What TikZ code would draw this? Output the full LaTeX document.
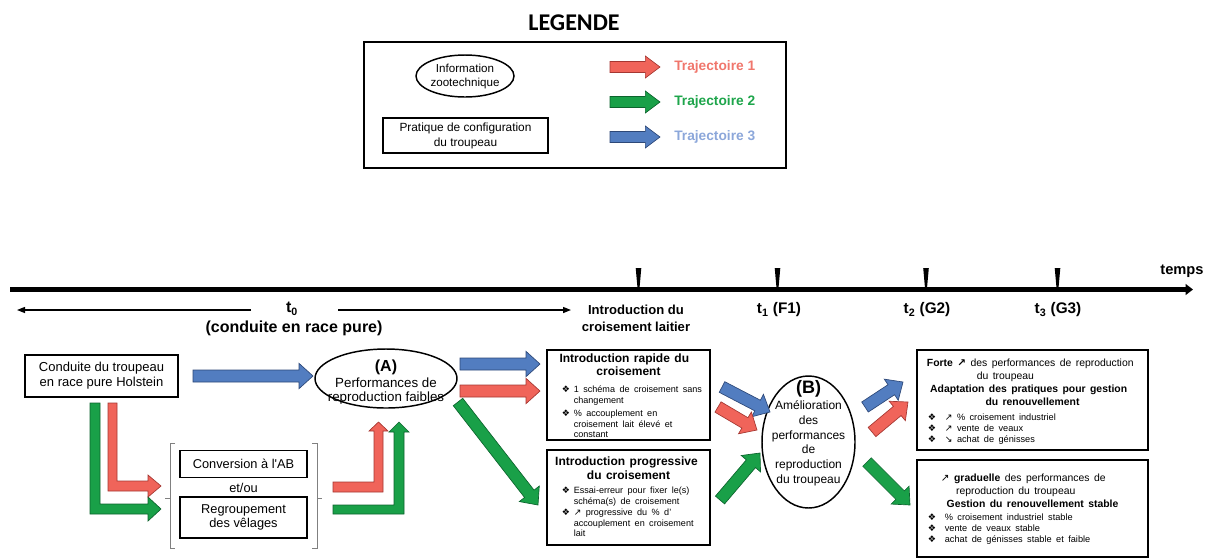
\documentclass[tikz,border=0pt]{standalone}
\usepackage{fontspec}
\setmainfont{Liberation Sans}
\newfontfamily\legendefont{Carlito}
\newfontfamily\symfont{DejaVu Sans}
\usetikzlibrary{shapes.geometric,arrows.meta,positioning,calc}

\definecolor{rougefill}{RGB}{240,100,90}
\definecolor{rougeline}{RGB}{165,55,50}
\definecolor{vertfill}{RGB}{25,160,72}
\definecolor{vertline}{RGB}{12,100,45}
\definecolor{bleufill}{RGB}{82,125,192}
\definecolor{bleuline}{RGB}{45,72,120}
\definecolor{rougetxt}{RGB}{240,118,108}
\definecolor{verttxt}{RGB}{30,165,75}
\definecolor{bleutxt}{RGB}{140,167,218}
\definecolor{gris}{RGB}{128,128,128}

\newcommand{\puce}{{\symfont ❖}}
\newcommand{\hausse}{{\symfont ↗}}
\newcommand{\baisse}{{\symfont ↘}}
\newcommand{\bitem}[2][9pt]{\par\hangindent=#1\hangafter=1\noindent\makebox[#1][l]{\puce}#2}

% taille des fleches larges
\newcommand{\baBody}{4.5pt}
\newcommand{\baHead}{9.5pt}
\newcommand{\baLen}{10.5pt}

\tikzset{
  blockarrow/.style={to path={
    let \p1=($(\tikztotarget)-(\tikztostart)$),
        \n1={atan2(\y1,\x1)}, \n2={veclen(\x1,\y1)} in
    ($(\tikztostart)+(\n1+90:\baBody)$)
    -- ($(\tikztostart)+(\n1:\n2-\baLen)+(\n1+90:\baBody)$)
    -- ($(\tikztostart)+(\n1:\n2-\baLen)+(\n1+90:\baHead)$)
    -- (\tikztotarget)
    -- ($(\tikztostart)+(\n1:\n2-\baLen)+(\n1-90:\baHead)$)
    -- ($(\tikztostart)+(\n1:\n2-\baLen)+(\n1-90:\baBody)$)
    -- ($(\tikztostart)+(\n1-90:\baBody)$) -- cycle}},
  petite/.code={\renewcommand{\baBody}{4.1pt}\renewcommand{\baHead}{8.25pt}\renewcommand{\baLen}{11pt}},
}

\begin{document}
\begin{tikzpicture}[x=0.75pt, y=-0.75pt,
    boite/.style={draw, line width=1.1pt, inner sep=0pt},
    bulle/.style={ellipse, draw, line width=1.1pt, inner sep=0pt},
    texte/.style={inner sep=0pt, align=center},
    traj1/.style={fill=rougefill, draw=rougeline, line width=0.5pt},
    traj2/.style={fill=vertfill, draw=vertline, line width=0.5pt},
    traj3/.style={fill=bleufill, draw=bleuline, line width=0.5pt},
    axe/.style={line width=3.75pt, -{Triangle[length=5.5pt,width=8pt]}},
    periode/.style={line width=1pt, -{Triangle[length=6pt,width=4.5pt]}},
    crochet/.style={draw=gris, line width=0.6pt}]
    \useasboundingbox (0,0) rectangle (1216,558);

    % Legende
    \node[font=\legendefont\bfseries\fontsize{18}{20}\selectfont, inner sep=0pt] (legende) at (574,23) {LEGENDE};
    \node[boite, minimum width=316.5pt, minimum height=94.5pt] (cadre) at (575,105) {};
    \node[bulle, minimum width=73.5pt, minimum height=31.5pt] (info) at (465,76) {};
    \node[texte, font=\fontsize{8.7}{10.5}\selectfont] (infotxt) at (info) {Information\\zootechnique};
    \node[boite, minimum width=123.75pt, minimum height=26.25pt, align=center,
          font=\fontsize{8.9}{11.25}\selectfont] (pratique) at (465.5,135.5) {Pratique de configuration\\du troupeau};
    \coordinate (l1a) at (610,67);  \coordinate (l1b) at (660,67);
    \coordinate (l2a) at (610,102); \coordinate (l2b) at (660,102);
    \coordinate (l3a) at (610,137); \coordinate (l3b) at (660,137);
    \draw[traj1, petite] (l1a) to[blockarrow] (l1b);
    \draw[traj2, petite] (l2a) to[blockarrow] (l2b);
    \draw[traj3, petite] (l3a) to[blockarrow] (l3b);
    \node[anchor=west, inner sep=0pt, font=\bfseries\fontsize{10.3}{12}\selectfont, text=rougetxt] (leg1) at (674,67) {Trajectoire 1};
    \node[anchor=west, inner sep=0pt, font=\bfseries\fontsize{10.3}{12}\selectfont, text=verttxt] (leg2) at (674,102) {Trajectoire 2};
    \node[anchor=west, inner sep=0pt, font=\bfseries\fontsize{10.3}{12}\selectfont, text=bleutxt] (leg3) at (674,137) {Trajectoire 3};

    % Axe du temps
    \coordinate (axedebut) at (10,289.5);
    \coordinate (axefin) at (1193,289.5);
    \draw[axe] (axedebut) -- (axefin);
    \foreach \tx in {638.5,777.5,926,1057.5}
        \fill (\tx-2.8,268) -- (\tx+2.8,268) -- (\tx+1,288) -- (\tx-1,288) -- cycle;
    \node[inner sep=0pt, font=\bfseries\fontsize{11}{13}\selectfont] (temps) at (1182,271) {temps};
    \node[inner sep=0pt, font=\bfseries\fontsize{12}{14}\selectfont] (tzero) at (292,309) {t\textsubscript{0}};
    \node[inner sep=0pt, font=\bfseries\fontsize{12}{14}\selectfont] (pure) at (294,328) {(conduite en race pure)};
    \coordinate (pg) at (17,310);  \coordinate (pgd) at (251,310);
    \coordinate (pdd) at (338,310); \coordinate (pd) at (571,310);
    \draw[periode] (pgd) -- (pg);
    \draw[periode] (pdd) -- (pd);
    \node[texte, font=\bfseries\fontsize{9.8}{12.75}\selectfont] (introlait) at (636,318.5) {Introduction du\\croisement laitier};
    \node[inner sep=0pt, font=\bfseries\fontsize{11.5}{13}\selectfont] (tun) at (779,310) {t\textsubscript{1} (F1)};
    \node[inner sep=0pt, font=\bfseries\fontsize{11.5}{13}\selectfont] (tdeux) at (927,310) {t\textsubscript{2} (G2)};
    \node[inner sep=0pt, font=\bfseries\fontsize{11.5}{13}\selectfont] (ttrois) at (1058,310) {t\textsubscript{3} (G3)};

    % Conduite en race pure
    \node[boite, minimum width=114.75pt, minimum height=31.5pt, align=center,
          font=\fontsize{9.75}{11.25}\selectfont] (conduite) at (101.5,376) {Conduite du troupeau\\en race pure Holstein};
    \node[bulle, minimum width=106.5pt, minimum height=44.25pt] (A) at (386,378.5) {};
    \node[texte, font=\fontsize{10}{10.5}\selectfont] (Atxt) at (386,382)
        {{\bfseries\fontsize{12}{13}\selectfont (A)}\\[1.5pt]Performances de\\reproduction faibles};

    % Pratiques AB / velages
    \draw[crochet] (175,443) -- (170,443) -- (170,548) -- (175,548);
    \draw[crochet] (165,498) -- (170,498);
    \draw[crochet] (312,443) -- (317,443) -- (317,548) -- (312,548);
    \draw[crochet] (317,498) -- (322,498);
    \node[boite, minimum width=95.25pt, minimum height=20.25pt, font=\fontsize{9.6}{10}\selectfont] (conversion) at (243.5,464) {Conversion à l\textquotesingle AB};
    \node[texte, font=\fontsize{9.6}{10}\selectfont] (etou) at (243.5,488) {et/ou};
    \node[boite, minimum width=95.25pt, minimum height=30.75pt, align=center,
          font=\fontsize{9.6}{10}\selectfont] (regroupement) at (243.5,517.5) {Regroupement\\des vêlages};

    \draw[traj2] (90,403) -- (100,403) -- (100,504) -- (148,504) -- (148,497) -- (161,509)
        -- (148,521) -- (148,514) -- (90,514) -- cycle;
    \draw[traj1] (108,403) -- (117,403) -- (117,481) -- (148,481) -- (148,475) -- (161,486)
        -- (148,497) -- (148,491) -- (108,491) -- cycle;
    \draw[traj1] (333,482) -- (374,482) -- (374,431) -- (369,431) -- (378.5,422) -- (388,431)
        -- (383,431) -- (383,492) -- (333,492) -- cycle;
    \draw[traj2] (333,505) -- (394,505) -- (394,432) -- (389,432) -- (399,422) -- (409,432)
        -- (404,432) -- (404,514) -- (333,514) -- cycle;

    % Introduction du croisement
    \node[boite, minimum width=122.25pt, minimum height=67.5pt] (rapide) at (628.5,395) {};
    \node[inner sep=0pt, text width=116pt, anchor=north] (rapidetxt) at (628.5,354)
        {{\centering\bfseries\fontsize{9}{9.75}\selectfont Introduction rapide du\newline croisement\par}
         {\fontsize{6.8}{7.9}\selectfont\raggedright\leftskip=8pt\parskip=2.5pt\vspace{2pt}
          \bitem{1 schéma de croisement sans\newline changement}
          \bitem{\% accouplement en\newline croisement lait élevé et\newline constant}\par}};
    \node[boite, minimum width=122.25pt, minimum height=71.25pt] (progressive) at (628.5,497.5) {};
    \node[inner sep=0pt, text width=116pt, anchor=north] (progressivetxt) at (628.5,457)
        {{\centering\bfseries\fontsize{9}{10.5}\selectfont Introduction progressive\newline du croisement\par}
         {\fontsize{6.8}{7.9}\selectfont\raggedright\leftskip=8pt\parskip=0.5pt\vspace{2pt}
          \bitem{Essai-erreur pour fixer le(s)\newline schéma(s) de croisement}
          \bitem{\hausse{} progressive du \% d’\newline accouplement en croisement\newline lait}\par}};

    % Amelioration des performances
    \node[bulle, minimum width=69.75pt, minimum height=99pt] (B) at (808.5,442) {};
    \node[texte, font=\fontsize{9}{11}\selectfont] (Btxt) at (808.5,433)
        {{\bfseries\fontsize{13.5}{14}\selectfont (B)}\\[1.5pt]Amélioration\\des\\performances\\de\\reproduction\\du troupeau};

    % Gestion du renouvellement
    \node[boite, minimum width=173.25pt, minimum height=75pt] (forte) at (1032.5,400) {};
    \node[inner sep=0pt, text width=165pt, anchor=north] (fortetxt) at (1032.5,359)
        {{\centering\fontsize{7.8}{9.75}\selectfont \textbf{Forte \hausse} des performances de reproduction\newline du troupeau\newline
          \textbf{Adaptation des pratiques pour gestion\newline du renouvellement}\par}
         {\fontsize{6.9}{8.25}\selectfont\raggedright\leftskip=4pt\vspace{2.5pt}
          \bitem[12.75pt]{\hausse{} \% croisement industriel}
          \bitem[12.75pt]{\hausse{} vente de veaux}
          \bitem[12.75pt]{\baisse{} achat de génisses}\par}};
    \node[boite, minimum width=173.25pt, minimum height=72.75pt] (graduelle) at (1032.5,508.5) {};
    \node[inner sep=0pt, text width=165pt, anchor=north] (graduelletxt) at (1032.5,474)
        {{\centering\fontsize{7.8}{9.75}\selectfont \hausse{} \textbf{graduelle} des performances de\newline reproduction du troupeau\newline
          \textbf{Gestion du renouvellement stable}\par}
         {\fontsize{6.9}{8.25}\selectfont\raggedright\leftskip=4pt\vspace{1.5pt}
          \bitem[12.75pt]{\% croisement industriel stable}
          \bitem[12.75pt]{vente de veaux stable}
          \bitem[12.75pt]{achat de génisses stable et faible}\par}};

    % Fleches des trajectoires
    \coordinate (b1a) at (193,376); \coordinate (b1b) at (313,376);
    \coordinate (b2a) at (460,364); \coordinate (b2b) at (540,364);
    \coordinate (r2a) at (460,391); \coordinate (r2b) at (540,391);
    \coordinate (g2a) at (458,402); \coordinate (g2b) at (538,505);
    \coordinate (b3a) at (722,387); \coordinate (b3b) at (770,412);
    \coordinate (r3a) at (718,407); \coordinate (r3b) at (757,430);
    \coordinate (g3a) at (720,500); \coordinate (g3b) at (760,453);
    \coordinate (b4a) at (865,407); \coordinate (b4b) at (903,382);
    \coordinate (r4a) at (872,432); \coordinate (r4b) at (908,402);
    \coordinate (g4a) at (867,462); \coordinate (g4b) at (910,505);
    \draw[traj3] (b1a) to[blockarrow] (b1b);
    \draw[traj3] (b2a) to[blockarrow] (b2b);
    \draw[traj1] (r2a) to[blockarrow] (r2b);
    \draw[traj2] (g2a) to[blockarrow] (g2b);
    \draw[traj3] (b3a) to[blockarrow] (b3b);
    \draw[traj1] (r3a) to[blockarrow] (r3b);
    \draw[traj2] (g3a) to[blockarrow] (g3b);
    \draw[traj3] (b4a) to[blockarrow] (b4b);
    \draw[traj1] (r4a) to[blockarrow] (r4b);
    \draw[traj2] (g4a) to[blockarrow] (g4b);
\end{tikzpicture}
\end{document}
